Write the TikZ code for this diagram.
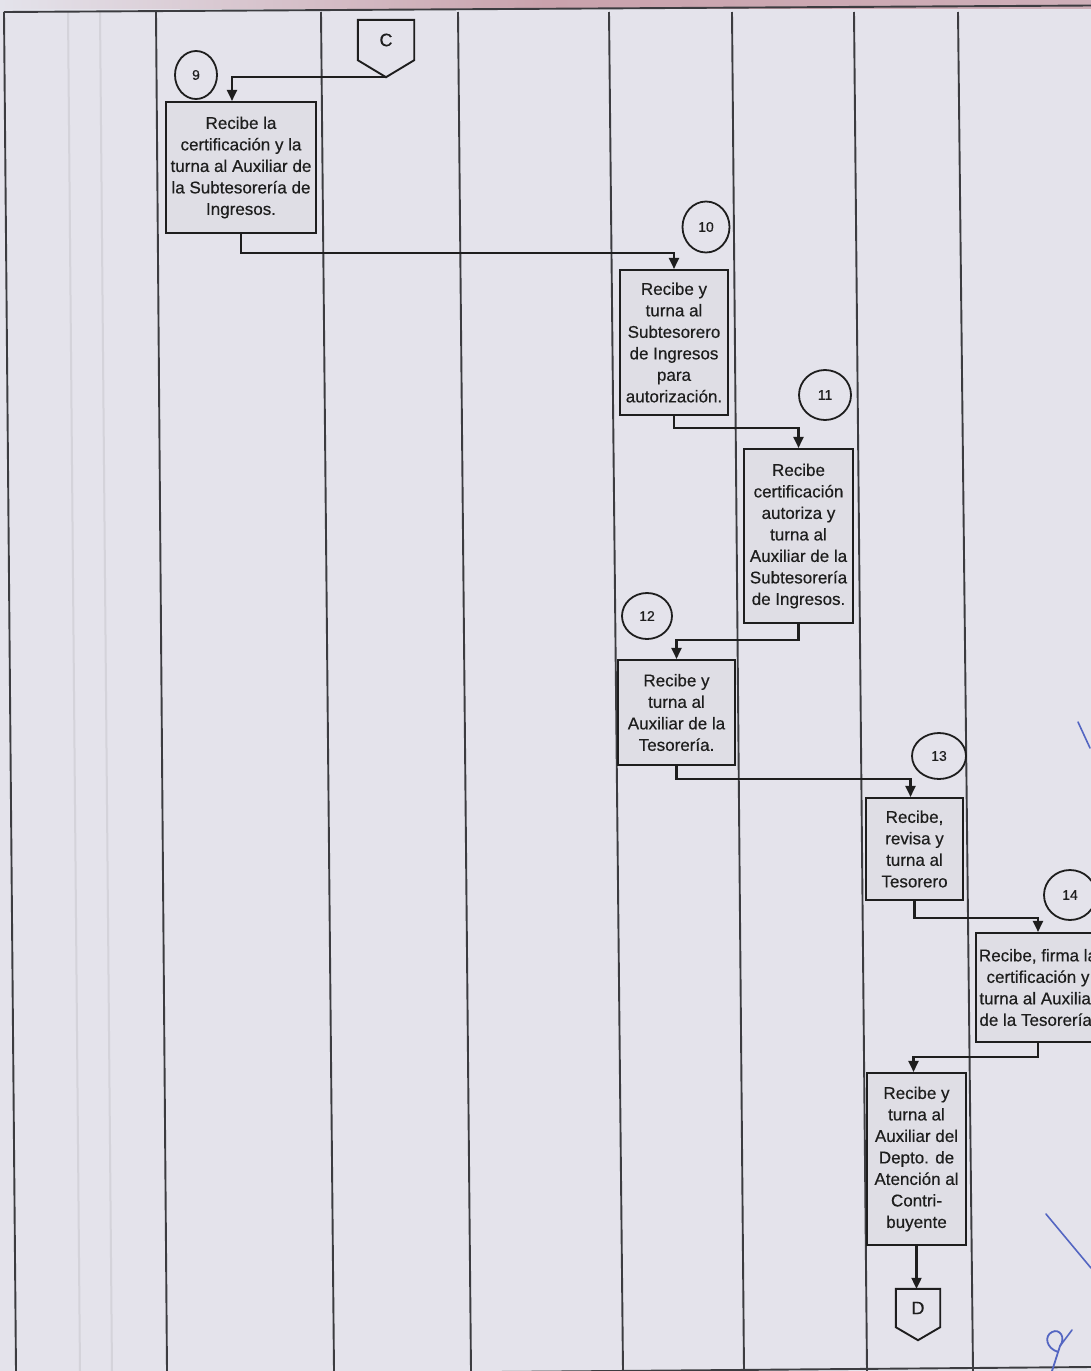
\documentclass[tikz,border=0pt]{standalone}
\usepackage{fontspec}
\setmainfont{Liberation Sans}
\newfontfamily\inkfont[FakeBold=0.45]{Liberation Sans}
\usetikzlibrary{arrows.meta,calc,shapes.geometric}

\definecolor{paper}{HTML}{E4E3EB}
\definecolor{boxfill}{HTML}{DFDEE5}
\definecolor{ink}{HTML}{1E1E1E}
\definecolor{lane}{HTML}{3C3C40}
\definecolor{faint}{HTML}{D4D3DA}
\definecolor{pen}{HTML}{5466C2}
\definecolor{bleed}{HTML}{C9A2AC}

\tikzset{
  stepbox/.style={draw=ink, line width=2.1pt, fill=boxfill, rectangle, inner sep=0pt,
    align=center, text=ink, font=\inkfont\fontsize{17}{21.5}\selectfont},
  numc/.style={draw=ink, line width=1.8pt, ellipse, inner sep=0pt,
    minimum width=48pt, minimum height=48pt, text=ink, font=\inkfont\fontsize{14}{16}\selectfont},
  pagebody/.style={inner sep=0pt, text=ink, font=\inkfont\fontsize{18}{20}\selectfont},
  pageshape/.style={draw=ink, line width=1.9pt, line join=miter},
  flow/.style={draw=ink, line width=2.1pt, -{Triangle[length=11pt,width=10pt]}},
  lanel/.style={draw=lane, line width=1.9pt},
}

\begin{document}
\begin{tikzpicture}[x=1pt,y=-1pt]
\useasboundingbox (0,0) rectangle (1091,1371);
\clip (0,0) rectangle (1091,1371);

% sheet
\fill[paper] (0,0) rectangle (1091,1371);
\shade[left color=paper, right color=bleed!80!paper, middle color=bleed]
  (0,0) rectangle (1091,8);

% faint paper folds in the first column
\draw[faint, line width=2pt] (68,12) -- (80,1371);
\draw[faint, line width=2pt] (100,12) -- (112,1371);

% swimlane frame
\draw[lanel] (4,12) -- (1091,5.5);
\draw[lanel] (16,1376) -- (1091,1367);
\foreach \xt/\xb in {4/16, 156/167, 321/334, 458/471, 609/623, 732/744, 854/867, 958/973}
  \draw[lanel] (\xt,12) -- (\xb,1371);

% off-page connector C
\node[pagebody, minimum width=56pt, minimum height=40pt] (C) at (386,40) {C};
\coordinate (Ctip) at ($(C.south)+(0,17)$);
\draw[pageshape] (C.north west) -- (C.south west) -- (Ctip) -- (C.south east) -- (C.north east) -- cycle;

% step 9
\node[numc, minimum width=42pt] (n9) at (196,75) {9};
\node[stepbox, minimum width=150pt, minimum height=131pt] (b9) at (241,167.5)
  {Recibe la\\certificación y la\\turna al Auxiliar de\\la Subtesorería de\\Ingresos.};

% step 10
\node[numc, minimum width=47pt, minimum height=51pt] (n10) at (706,227) {10};
\node[stepbox, minimum width=108pt, minimum height=145pt] (b10) at (674,342.5)
  {Recibe y\\turna al\\Subtesorero\\de Ingresos\\para\\autorización.};

% step 11
\node[numc, minimum width=52pt, minimum height=50pt] (n11) at (825,395) {11};
\node[stepbox, minimum width=109pt, minimum height=174pt] (b11) at (798.5,536)
  {Recibe\\certificación\\autoriza y\\turna al\\Auxiliar de la\\Subtesorería\\de Ingresos.};

% step 12
\node[numc, minimum width=50pt, minimum height=46pt] (n12) at (647,616) {12};
\node[stepbox, minimum width=117pt, minimum height=105pt] (b12) at (676.5,712.5)
  {Recibe y\\turna al\\Auxiliar de la\\Tesorería.};

% step 13
\node[numc, minimum width=54pt, minimum height=46pt] (n13) at (939,756) {13};
\node[stepbox, minimum width=97pt, minimum height=102pt] (b13) at (914.5,849)
  {Recibe,\\revisa y\\turna al\\Tesorero};

% step 14 (its box runs past the sheet's right edge)
\node[numc, minimum width=52pt, minimum height=50pt] (n14) at (1070,895) {14};
\node[stepbox, minimum width=124pt, minimum height=109pt] (b14) at (1038,987.5)
  {Recibe, firma la\\certificación y\\turna al Auxiliar\\de la Tesorería.};

% step 15
\node[stepbox, minimum width=99pt, minimum height=172pt] (b15) at (916.5,1159)
  {Recibe y\\turna al\\Auxiliar del\\Depto. de\\Atención al\\Contri-\\buyente};

% off-page connector D
\node[pagebody, minimum width=44pt, minimum height=38pt] (D) at (918,1308) {D};
\coordinate (Dtip) at ($(D.south)+(0,13)$);
\draw[pageshape] (D.north west) -- (D.south west) -- (Dtip) -- (D.south east) -- (D.north east) -- cycle;

% flow connectors
\draw[flow] (Ctip) -| ([xshift=-9pt]b9.north);
\draw[flow] (b9.south) -- ++(0,19) -| (b10.north);
\draw[flow] (b10.south) -- ++(0,12) -| (b11.north);
\draw[flow] (b11.south) -- ++(0,16) -| (b12.north);
\draw[flow] (b12.south) -- ++(0,13) -| ([xshift=-4pt]b13.north);
\draw[flow] (b13.south) -- ++(0,17) -| (b14.north);
\draw[flow] (b14.south) -- ++(0,14) -| ([xshift=-3pt]b15.north);
\draw[flow] (b15.south) -- (b15.south |- D.north);

% handwritten pen marks
\draw[pen, line width=1.6pt, line cap=round] (1078,722) -- (1090,748);
\draw[pen, line width=1.6pt, line cap=round] (1046,1214) -- (1091,1268);
\draw[pen, line width=1.8pt, line cap=round]
  (1058,1352) .. controls (1046,1348) and (1044,1336) .. (1052,1332)
  .. controls (1060,1328) and (1066,1338) .. (1060,1346)
  -- (1052,1371);
\draw[pen, line width=1.6pt, line cap=round] (1060,1346) -- (1072,1330);
\end{tikzpicture}
\end{document}
